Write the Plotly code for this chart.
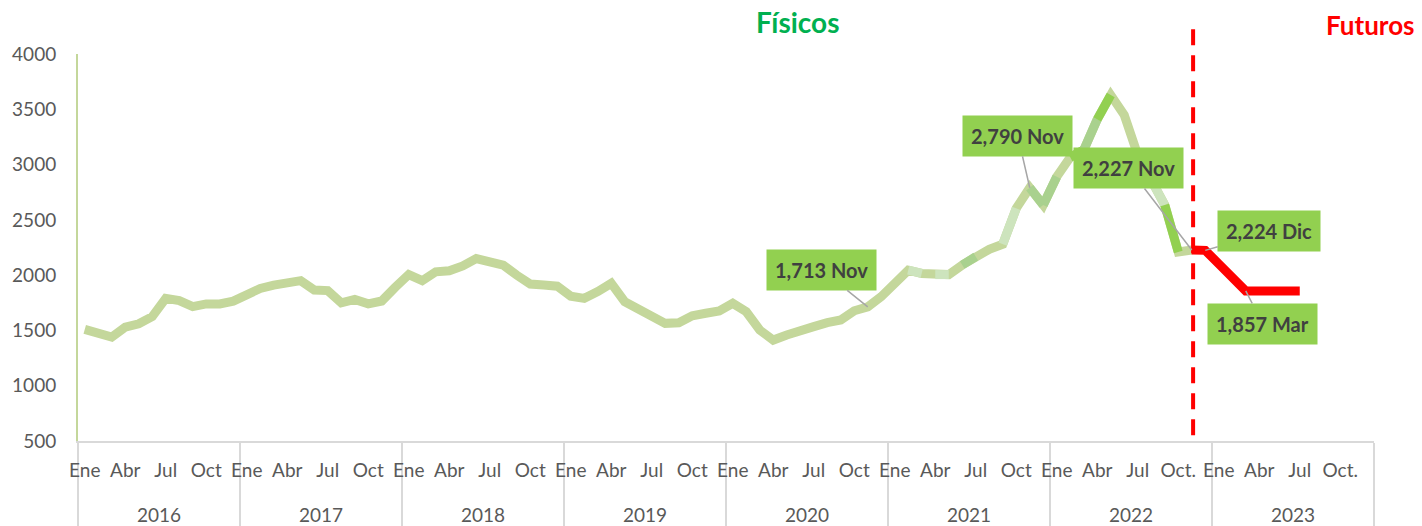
import numpy as np
import plotly.graph_objects as go

# monthly prices, Jan 2016 .. Nov 2022 (physical)
fisicos = [
    1510, 1465, 1440, 1530, 1560, 1625, 1790, 1770, 1715, 1740, 1740, 1765,  # 2016
    1825, 1880, 1910, 1920, 1950, 1866, 1860, 1750, 1780, 1740, 1766, 1890,  # 2017
    2005, 1950, 2030, 2040, 2083, 2150, 2128, 2090, 2000, 1920, 1911, 1900,  # 2018
    1810, 1790, 1851, 1926, 1760, 1700, 1640, 1564, 1570, 1633, 1655, 1676,  # 2019
    1745, 1669, 1504, 1413, 1459, 1504, 1534, 1570, 1594, 1678, 1713, 1805,  # 2020
    1926, 2045, 2015, 2005, 2005, 2092, 2167, 2234, 2280, 2604, 2790, 2634,  # 2021
    2890, 3066, 3132, 3409, 3629, 3448, 3087, 2861, 2634, 2210, 2227,        # 2022
]
# futures, Nov 2022 .. Jul 2023
futuros = [2227, 2224, 2102, 1980, 1857, 1857, 1857, 1857, 1857]
futuros_start = 82  # month index of Nov 2022

years = ["2016", "2017", "2018", "2019", "2020", "2021", "2022", "2023"]
month_ticks = [0, 3, 6, 9]
month_text = {
    "2016": ["Ene", "Abr", "Jul", "Oct"],
    "2017": ["Ene", "Abr", "Jul", "Oct"],
    "2018": ["Ene", "Abr", "Jul", "Oct"],
    "2019": ["Ene", "Abr", "Jul", "Oct"],
    "2020": ["Ene", "Abr", "Jul", "Oct"],
    "2021": ["Ene", "Abr", "Jul", "Oct"],
    "2022": ["Ene", "Abr", "Jul", "Oct."],
    "2023": ["Ene", "Abr", "Jul", "Oct."],
}
month_names = ["Ene", "Feb", "Mar", "Abr", "May", "Jun",
               "Jul", "Ago", "Sep", "Oct", "Nov", "Dic"]

# labelled points: (series, month index, box offset x, box offset y)
callouts = [("f", 58, -46, -37), ("f", 70, -12, -52), ("f", 82, -63, -82),
            ("u", 83, 64, -19), ("u", 86, 17, 33)]

FONT = "Lato, Calibri, Arial, sans-serif"
OLIVE = "#c4d79b"
PALE = "#cde4bd"
MEDIUM = "#a9d18e"
BRIGHT = "#92d050"
seg_colors = {61: PALE, 63: PALE, 65: MEDIUM, 68: PALE, 70: MEDIUM, 71: MEDIUM,
              73: BRIGHT, 74: MEDIUM, 75: BRIGHT, 79: PALE, 80: BRIGHT}
LW = 9

x_f = np.arange(len(fisicos)) + 0.5
x_u = np.arange(futuros_start, futuros_start + len(futuros)) + 0.5

fig = go.Figure()
fig.add_trace(go.Scatter(x=x_f, y=fisicos, mode="lines",
                         line=dict(color=OLIVE, width=LW), hoverinfo="skip"))
for i, c in seg_colors.items():
    fig.add_trace(go.Scatter(x=x_f[i:i + 2], y=fisicos[i:i + 2], mode="lines",
                             line=dict(color=c, width=LW), hoverinfo="skip"))
fig.add_trace(go.Scatter(x=x_u, y=futuros, mode="lines",
                         line=dict(color="#ff0000", width=LW), hoverinfo="skip"))

tickvals, ticktext = [], []
for k, yr in enumerate(years):
    for m, t in zip(month_ticks, month_text[yr]):
        tickvals.append(k * 12 + m + 0.5)
        ticktext.append(t)

annotations = []
for k, yr in enumerate(years):
    annotations.append(dict(x=k * 12 + 6, y=-0.19, xref="x", yref="paper", text=yr,
                            xanchor="center", yanchor="middle", showarrow=False,
                            font=dict(family=FONT, size=19, color="#595959")))

for s, i, ax, ay in callouts:
    v = fisicos[i] if s == "f" else futuros[i - futuros_start]
    annotations.append(dict(
        x=i + 0.5, y=v, xref="x", yref="y", text=f"<b>{v:,} {month_names[i % 12]}</b>",
        showarrow=True, arrowhead=0, arrowcolor="#a6a6a6", arrowwidth=1.5,
        ax=ax, ay=ay, bgcolor=BRIGHT, borderpad=8,
        font=dict(family=FONT, size=20, color="#404040")))

annotations.append(dict(x=0.555, y=1.083, xref="paper", yref="paper", text="<b>Físicos</b>",
                        xanchor="center", yanchor="middle", showarrow=False,
                        font=dict(family=FONT, size=28, color="#00b050")))
annotations.append(dict(x=0.997, y=1.075, xref="paper", yref="paper", text="<b>Futuros</b>",
                        xanchor="center", yanchor="middle", showarrow=False,
                        font=dict(family=FONT, size=26, color="#ff0000")))

fig.update_layout(
    width=1422, height=526,
    margin=dict(l=78, r=48, t=54, b=85, autoexpand=False),
    plot_bgcolor="white", paper_bgcolor="white",
    showlegend=False,
    annotations=annotations,
    shapes=[dict(type="line", xref="x", yref="paper", x0=futuros_start + 0.6, x1=futuros_start + 0.6,
                 y0=0.015, y1=1.067, line=dict(color="#ff0000", width=4, dash="16px,10px"))],
    xaxis=dict(range=[0, 96], tickmode="array", tickvals=tickvals, ticktext=ticktext,
               automargin=False,
               showgrid=False, zeroline=False, showline=True, linecolor="#d9d9d9", linewidth=2,
               ticks="", ticklabelstandoff=11,
               tickfont=dict(family=FONT, size=19, color="#595959")),
    yaxis=dict(range=[500, 4000], tickmode="linear", tick0=500, dtick=500,
               automargin=False,
               showgrid=False, zeroline=False, showline=True, linecolor="#c4d79b", linewidth=2,
               ticks="", ticklabelstandoff=16,
               tickfont=dict(family=FONT, size=19, color="#595959")),
)
# year separators below the axis
fig.update_xaxes(minor=dict(ticks="outside", tick0=0, dtick=12, ticklen=90,
                            tickcolor="#d9d9d9", tickwidth=2))

# drop the default page margin so the figure fills the window
fig.write_html("out.html", config={"displayModeBar": False},
               post_script="document.body.style.margin='0';")
